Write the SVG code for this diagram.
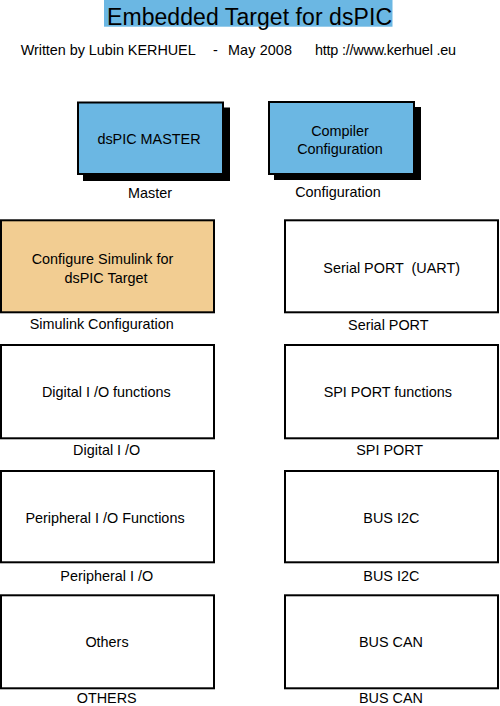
<svg xmlns="http://www.w3.org/2000/svg" width="500" height="706" viewBox="0 0 500 706">
<style>
text{font-family:"Liberation Sans",Arial,sans-serif;fill:#000;}
.t{font-size:14.4px;text-anchor:middle;}
.box{fill:#fff;stroke:#000;stroke-width:2;}
.blue{fill:#6BB7E3;stroke:#000;stroke-width:2;}
.orange{fill:#F2CD92;stroke:#000;stroke-width:2;}
.shadow{fill:#000;}
</style>
<rect width="500" height="706" fill="#fff"/>
<g id="title">
<rect x="104" y="0" width="288.5" height="26.7" fill="#6BB7E3"/>
<text x="249.5" y="24.5" font-size="23" text-anchor="middle" textLength="285" lengthAdjust="spacing">Embedded Target for dsPIC</text>
</g>
<g id="subtitle" font-size="14.4">
<text x="20.7" y="55" textLength="175" lengthAdjust="spacing">Written by Lubin KERHUEL</text>
<text x="215.5" y="55" text-anchor="middle">-</text>
<text x="228" y="55" textLength="64" lengthAdjust="spacing">May 2008</text>
<text x="315" y="55" textLength="141" lengthAdjust="spacing">http ://www.kerhuel .eu</text>
</g>
<g id="master">
<rect class="shadow" x="83" y="107.5" width="147" height="73.5"/>
<rect class="blue" x="78" y="102.5" width="145" height="71.5"/>
<text class="t" x="149" y="144">dsPIC MASTER</text>
<text class="t" x="150" y="198">Master</text>
</g>
<g id="configuration">
<rect class="shadow" x="274" y="107" width="147" height="73"/>
<rect class="blue" x="269" y="102" width="145" height="72"/>
<text class="t" x="340" y="135.7">Compiler</text>
<text class="t" x="340" y="154.3">Configuration</text>
<text class="t" x="338" y="197">Configuration</text>
</g>
<g id="simulink-configuration">
<rect class="orange" x="1" y="220.3" width="213" height="92"/>
<text class="t" x="102.5" y="264">Configure Simulink for</text>
<text class="t" x="106" y="282.7">dsPIC Target</text>
<text class="t" x="101.7" y="329.3">Simulink Configuration</text>
</g>
<g id="serial-port">
<rect class="box" x="285" y="220.3" width="213" height="92"/>
<text class="t" x="391.7" y="272.7" xml:space="preserve">Serial PORT  (UART)</text>
<text class="t" x="388.3" y="330">Serial PORT</text>
</g>
<g id="digital-io">
<rect class="box" x="1" y="345" width="213" height="93.3"/>
<text class="t" x="106.3" y="397.3">Digital I /O functions</text>
<text class="t" x="106.7" y="455">Digital I /O</text>
</g>
<g id="spi-port">
<rect class="box" x="285" y="345" width="213" height="93.3"/>
<text class="t" x="387.8" y="397.3">SPI PORT functions</text>
<text class="t" x="389.7" y="455">SPI PORT</text>
</g>
<g id="peripheral-io">
<rect class="box" x="1" y="471" width="213" height="91.3"/>
<text class="t" x="105" y="522.7">Peripheral I /O Functions</text>
<text class="t" x="106.7" y="580.7">Peripheral I /O</text>
</g>
<g id="bus-i2c">
<rect class="box" x="285" y="471" width="213" height="91.3"/>
<text class="t" x="391.3" y="522.7">BUS I2C</text>
<text class="t" x="391.3" y="580.7">BUS I2C</text>
</g>
<g id="others">
<rect class="box" x="1" y="595.3" width="213" height="93"/>
<text class="t" x="107" y="647.3">Others</text>
<text class="t" x="106.7" y="703">OTHERS</text>
</g>
<g id="bus-can">
<rect class="box" x="285" y="595.3" width="213" height="93"/>
<text class="t" x="391" y="647.3">BUS CAN</text>
<text class="t" x="391" y="703">BUS CAN</text>
</g>
<g id="connectors"></g>
</svg>
